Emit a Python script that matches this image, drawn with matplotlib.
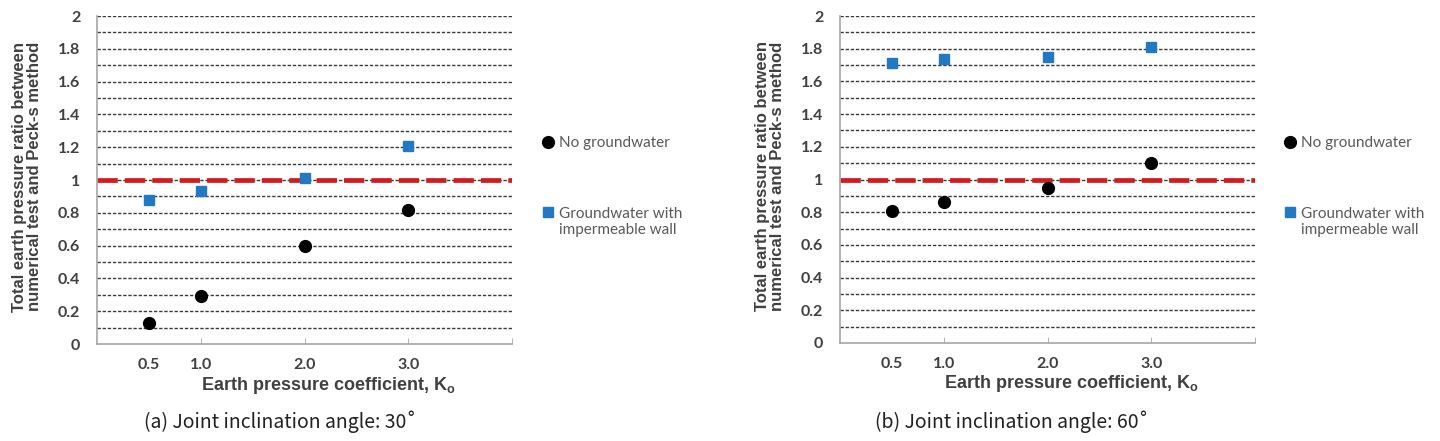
import matplotlib.pyplot as plt
from matplotlib.ticker import FixedLocator, NullFormatter

# values
ko = [0.5, 1.0, 2.0, 3.0]
ko_labels = ['0.5', '1.0', '2.0', '3.0']
no_gw_30 = [0.13, 0.29, 0.60, 0.82]
gw_wall_30 = [0.88, 0.93, 1.01, 1.21]
no_gw_60 = [0.81, 0.86, 0.95, 1.10]
gw_wall_60 = [1.71, 1.74, 1.75, 1.81]
y_ticks = [0, 0.2, 0.4, 0.6, 0.8, 1, 1.2, 1.4, 1.6, 1.8, 2]
y_tick_labels = ['0', '0.2', '0.4', '0.6', '0.8', '1', '1.2', '1.4', '1.6', '1.8', '2']
grid_levels = [i / 10 for i in range(1, 21)]
ref_ratio = 1.0

W, H = 1440, 441
fig = plt.figure(figsize=(W / 100, H / 100), dpi=100)

gray = '#404040'
blue = '#2378c4'


def panel(rect, no_gw, gw_wall, caption, cap_x, leg_x, ylab_x):
    ax = fig.add_axes(rect)
    ax.set_xlim(0, 4)
    ax.set_ylim(0, 2)
    for lv in grid_levels:
        ax.axhline(lv, color='#3a3a3a', lw=1.0, dashes=(2.4, 1.3), zorder=1)
    ax.axhline(ref_ratio, color='#d01c1c', lw=3.4, dashes=(4.3, 1.5), zorder=2)
    ax.plot(ko, no_gw, 'o', color='black', ms=8.5, zorder=3, label='No groundwater')
    ax.plot(ko, gw_wall, 's', color=blue, ms=6.5, zorder=3, label='Groundwater with')

    for s in ['top', 'right']:
        ax.spines[s].set_visible(False)
    for s in ['left', 'bottom']:
        ax.spines[s].set_color('#a6a6a6')
        ax.spines[s].set_linewidth(1.2)

    ax.set_yticks(y_ticks)
    ax.set_yticklabels(y_tick_labels)
    ax.tick_params(axis='y', length=0, pad=12, labelsize=11.5, labelcolor=gray)
    for t in ax.get_yticklabels():
        t.set_fontfamily('Lato')
        t.set_fontweight('bold')

    ax.set_xticks(ko)
    ax.set_xticklabels(ko_labels)
    ax.xaxis.set_minor_locator(FixedLocator([1, 2, 3, 4]))
    ax.xaxis.set_minor_formatter(NullFormatter())
    ax.xaxis.remove_overlapping_locs = False
    ax.tick_params(axis='x', which='major', length=0, pad=10, labelsize=11.5, labelcolor=gray)
    ax.tick_params(axis='x', which='minor', length=4, direction='in', color='#a6a6a6')
    for t in ax.get_xticklabels():
        t.set_fontfamily('Lato')
        t.set_fontweight('bold')

    ax.set_xlabel('Earth pressure coefficient, K$_\\mathregular{o}$', fontsize=13,
                  fontweight='bold', color=gray, family='Liberation Sans')
    ax.xaxis.set_label_coords(0.557, -0.093)
    ax.set_ylabel('Total earth pressure ratio between\nnumerical test and Peck-s method',
                  fontsize=12, fontweight='bold', color=gray, family='Liberation Sans',
                  linespacing=1.0)
    ax.yaxis.set_label_coords(ylab_x, 0.51)

    fig.text(cap_x / W, 1 - 422 / H, caption, ha='center', va='center',
             fontsize=14, family=['Noto Sans CJK KR', 'DejaVu Sans'], color='#222222')

    leg = fig.legend(handles=ax.lines[-2:], loc='upper left',
                     bbox_to_anchor=(leg_x / W, 1 - 136 / H), frameon=False,
                     prop={'family': 'Lato', 'size': 11}, labelcolor='#595959',
                     handlelength=0.6, handletextpad=0.45, labelspacing=3.7,
                     borderpad=0, borderaxespad=0)
    return leg


leg_a = panel([97 / W, 97 / H, 415 / W, 328 / H], no_gw_30, gw_wall_30,
              '(a) Joint inclination angle: 30˚', 280, 543, -0.133)
leg_b = panel([840 / W, 98 / H, 415 / W, 327 / H], no_gw_60, gw_wall_60,
              '(b) Joint inclination angle: 60˚', 1012, 1285, -0.133)

# second line of the two-line legend entry
fig.canvas.draw()
for leg in [leg_a, leg_b]:
    bb = leg.get_texts()[1].get_window_extent()
    fig.text(bb.x0 / W, (bb.y0 - 2) / H, 'impermeable wall', ha='left', va='top',
             family='Lato', fontsize=11, color='#595959')

fig.savefig('out.png', dpi=100)
